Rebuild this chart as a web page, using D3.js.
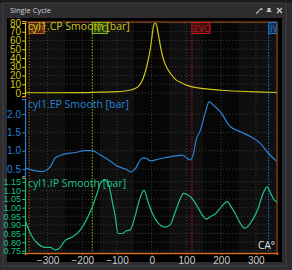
<!DOCTYPE html>
<html>
<head>
<meta charset="utf-8">
<script src="https://cdn.jsdelivr.net/npm/d3@7"></script>
<style>
  body { margin: 0; background: #2d2d30; }
  svg { display: block; font-family: "Open Sans", "Noto Sans", sans-serif; }
</style>
</head>
<body>
<div id="chart"></div>
<script>
// crank angle samples per series (deg CA) and values (bar)
const cpAngle = [-365, -300, -200, -150, -100, -60, -40, -30, -20, -10, -4, 0, 5, 10, 15, 20, 28, 35, 45, 55, 70, 85, 100, 117, 150, 200, 250, 300, 361];
const cpValue = [0.3, 0.3, 0.5, 1, 1.5, 3.5, 7, 12, 22, 38, 50, 62, 76, 80, 76, 65, 48, 37, 28, 22, 15, 12, 9, 7, 5, 3.2, 2, 1.2, 0.6];

const epAngle = [-365, -345, -316, -293, -278, -255, -220, -192, -171, -148, -120, -99, -76, -59, -48, -27, -16, -4, 24, 68, 88, 111, 120, 128, 140, 154, 166, 177, 197, 226, 255, 284, 313, 336, 359];
const epValue = [0.53, 0.47, 0.43, 0.55, 0.8, 0.9, 0.95, 1.0, 1.0, 0.88, 0.72, 0.58, 0.5, 0.42, 0.5, 0.8, 0.8, 0.72, 0.78, 0.86, 0.88, 0.75, 0.9, 1.3, 1.55, 2.03, 2.34, 2.25, 2.07, 1.66, 1.52, 1.39, 1.2, 0.93, 0.72];

const ipAngle = [-365, -356, -344, -330, -307, -292, -278, -269, -249, -229, -206, -183, -171, -157, -148, -137, -125, -114, -105, -97, -85, -73, -62, -48, -33, -22, -10, 1, 19, 39, 53, 68, 82, 91, 105, 120, 134, 146, 157, 171, 183, 203, 218, 229, 241, 255, 269, 290, 307, 321, 333, 341, 353, 361];
const ipValue = [0.93, 0.88, 0.83, 0.795, 0.77, 0.77, 0.755, 0.76, 0.81, 0.83, 0.87, 0.95, 1.005, 1.085, 1.14, 1.16, 1.14, 1.04, 0.95, 0.85, 0.85, 0.866, 0.87, 0.95, 1.06, 1.1, 1.03, 0.97, 0.91, 0.887, 0.9, 0.976, 1.05, 1.083, 1.073, 1.044, 0.997, 0.957, 0.934, 0.95, 0.963, 1.01, 1.035, 1.005, 0.965, 0.91, 0.88, 0.928, 0.997, 1.083, 1.12, 1.09, 1.044, 1.035];

const seriesNames = ["cyl1.CP Smooth [bar]", "cyl1.EP Smooth [bar]", "cyl1.IP Smooth [bar]"];
const cpTicks = [0, 10, 20, 30, 40, 50, 60, 70, 80];
const epTicks = [0.5, 1.0, 1.5, 2.0];
const ipTicks = [0.75, 0.80, 0.85, 0.90, 0.95, 1.00, 1.05, 1.10, 1.15];
const xTicks = [-300, -200, -100, 0, 100, 200, 300];

// valve timing markers
const markerNames = ["EVC", "IVC", "EVO", "IVO"];
const markerAngles = [-353, -171, 116, 337];

const W = 292, H = 270;
const svg = d3.select("#chart").append("svg")
    .attr("width", W)
    .attr("height", H);

// window chrome
svg.append("rect").attr("width", W).attr("height", H).attr("fill", "#2d2d30");
svg.append("rect").attr("width", W).attr("height", 3).attr("fill", "#1b1b1c");
svg.append("rect").attr("x", 3).attr("y", 3).attr("width", 283).attr("height", 263)
    .attr("fill", "none").attr("stroke", "#3f3f46");
svg.append("text").attr("x", 10).attr("y", 13)
    .attr("fill", "#d0d0d0").style("font-size", "7.5px")
    .text("Single Cycle");
// title bar icons
const icons = svg.append("g").attr("fill", "#c8c8c8");
icons.append("path").attr("d", "M256,13 L260,9 L261,8 L263,9 L262,10 L260,10 L257,14 Z");
icons.append("rect").attr("x", 267.5).attr("y", 8).attr("width", 3).attr("height", 4);
icons.append("rect").attr("x", 266.5).attr("y", 11).attr("width", 5).attr("height", 1);
icons.append("path").attr("d", "M277,8 L282,13 M282,8 L277,13").attr("stroke", "#c8c8c8").attr("stroke-width", 1.3);

svg.append("rect").attr("x", 7).attr("y", 18).attr("width", 275).attr("height", 244).attr("fill", "#000");

// scales
const x = d3.scaleLinear().domain([-365, 361]).range([25, 277]);
const plotLeft = 25, plotRight = 277, plotTop = 22, plotBottom = 253;

const panels = [
    {angle: cpAngle, value: cpValue, name: seriesNames[0], color: "#cfc715", ticks: cpTicks, fmt: d3.format("d"), fs: 10,
        y: d3.scaleLinear().domain([-3.4, 82.3]).range([96, 21])},
    {angle: epAngle, value: epValue, name: seriesNames[1], color: "#2a82d6", ticks: epTicks, fmt: d3.format(".1f"), fs: 10,
        y: d3.scaleLinear().domain([0.31, 2.41]).range([176, 99])},
    {angle: ipAngle, value: ipValue, name: seriesNames[2], color: "#1fc283", ticks: ipTicks, fmt: d3.format(".2f"), fs: 9,
        y: d3.scaleLinear().domain([0.737, 1.172]).range([253, 178])}
];

// background bands
const bandEdges = [-365].concat(xTicks.map(d => d - 50), [361]);
const bands = svg.append("g");
for (let i = 0; i < bandEdges.length - 1; i++) {
    bands.append("rect")
        .attr("x", x(bandEdges[i]))
        .attr("y", plotTop)
        .attr("width", x(bandEdges[i + 1]) - x(bandEdges[i]))
        .attr("height", plotBottom - plotTop)
        .attr("fill", i % 2 ? "#0f0f0f" : "#060606");
}

// vertical grid
svg.append("g").selectAll("line").data(xTicks).join("line")
    .attr("x1", d => x(d)).attr("x2", d => x(d))
    .attr("y1", plotTop).attr("y2", plotBottom)
    .attr("stroke", "#3a3a3a").attr("stroke-dasharray", "1,2");

// horizontal grid + y axes
panels.forEach(p => {
    const g = svg.append("g");
    g.selectAll("line.grid").data(p.ticks).join("line")
        .attr("class", "grid")
        .attr("x1", plotLeft).attr("x2", plotRight)
        .attr("y1", d => p.y(d)).attr("y2", d => p.y(d))
        .attr("stroke", "#3a3a3a").attr("stroke-dasharray", "1,2");

    const axis = svg.append("g")
        .attr("transform", `translate(${plotLeft},0)`)
        .call(d3.axisLeft(p.y).tickValues(p.ticks).tickFormat(p.fmt).tickSize(3).tickPadding(1));
    axis.select(".domain").attr("stroke", p.color).attr("stroke-width", 1.2);
    axis.selectAll(".tick line").attr("stroke", p.color);
    axis.selectAll(".tick text").attr("fill", p.color).style("font-size", p.fs + "px");
});

// panel separators ticks
svg.append("g").selectAll("line").data([97, 177]).join("line")
    .attr("x1", plotLeft - 3).attr("x2", plotLeft + 1)
    .attr("y1", d => d).attr("y2", d => d)
    .attr("stroke", "#d2691e");

// orange frame
svg.append("path")
    .attr("d", `M${plotLeft},${plotTop} H${plotRight} V${plotBottom}`)
    .attr("fill", "none").attr("stroke", "#b4561c").attr("stroke-width", 1);

// x axis
const xAxis = svg.append("g")
    .attr("transform", `translate(0,${plotBottom})`)
    .call(d3.axisBottom(x).tickValues(xTicks).tickSize(2).tickPadding(2));
xAxis.select(".domain").attr("stroke", "#d2691e").attr("stroke-width", 1.5);
xAxis.selectAll(".tick line").attr("stroke", "#d2691e");
xAxis.selectAll(".tick text").attr("fill", "#cccccc").style("font-size", "10px");

svg.append("text").attr("x", 275).attr("y", 249)
    .attr("text-anchor", "end").attr("fill", "#e6e6e6").style("font-size", "10px")
    .text("CA°");

// markers
const markerColors = ["#c8641e", "#7ab51d", "#c0161c", "#1f7ad2"];
svg.append("clipPath").attr("id", "plotClip")
    .append("rect").attr("x", plotLeft).attr("y", plotTop).attr("width", plotRight - plotLeft).attr("height", plotBottom - plotTop);
const mk = svg.append("g").attr("clip-path", "url(#plotClip)");
markerNames.forEach((m, i) => {
    const mx = x(markerAngles[i]);
    mk.append("line")
        .attr("x1", mx).attr("x2", mx).attr("y1", plotTop).attr("y2", plotBottom)
        .attr("stroke", markerColors[i]).attr("stroke-dasharray", "1.5,1.5");
    mk.append("rect")
        .attr("x", mx).attr("y", plotTop + 0.5).attr("width", i === 2 ? 18 : 15).attr("height", 11)
        .attr("fill", markerColors[i]).attr("fill-opacity", 0.25)
        .attr("stroke", markerColors[i]);
    mk.append("text")
        .attr("x", mx + 1.5).attr("y", plotTop + 9.5)
        .attr("fill", markerColors[i]).style("font-size", "9px")
        .text(m);
});

// curves
panels.forEach(p => {
    const pts = p.angle.map((a, i) => [a, p.value[i]]);
    const line = d3.line()
        .curve(d3.curveMonotoneX)
        .x(d => x(d[0]))
        .y(d => p.y(d[1]));
    svg.append("path")
        .datum(pts)
        .attr("d", line)
        .attr("fill", "none")
        .attr("stroke", p.color)
        .attr("stroke-width", 1.2)
        .attr("clip-path", "url(#plotClip)");
});

// series titles
panels.forEach(p => {
    svg.append("text")
        .attr("x", 28)
        .attr("y", p.y.range()[1] + 9)
        .attr("fill", p.color)
        .style("font-size", "10.5px")
        .text(p.name);
});
</script>
</body>
</html>
